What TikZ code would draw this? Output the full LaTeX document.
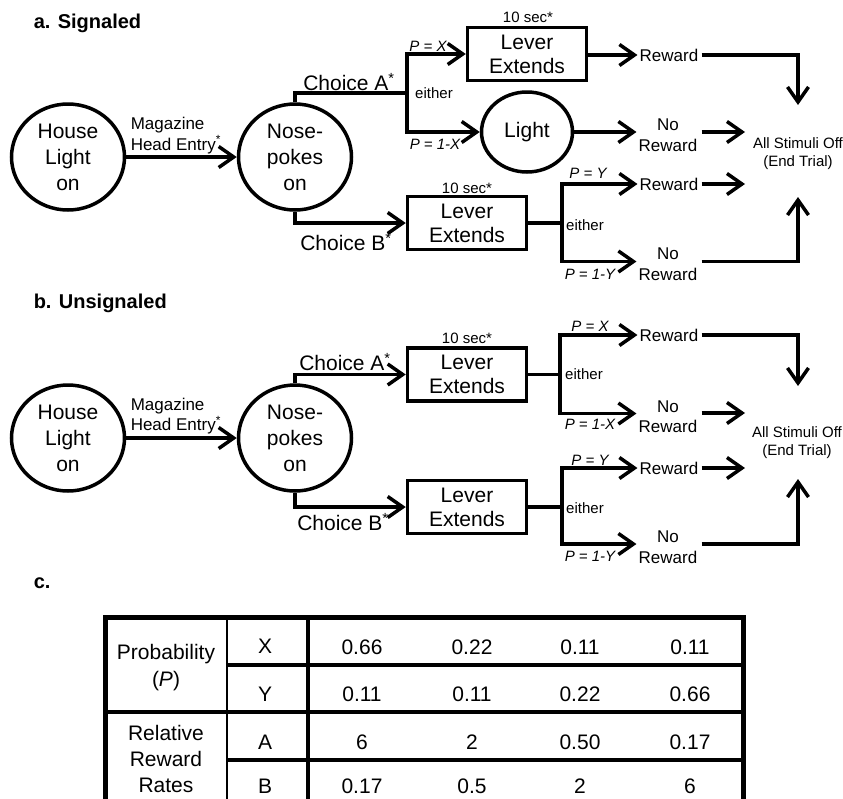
\documentclass[tikz,border=0pt]{standalone}
\usepackage{fontspec}
\setmainfont{Liberation Sans}
\usetikzlibrary{arrows.meta,shapes.geometric}
\newcommand\szL{\fontsize{21}{26}\selectfont}
\newcommand\szB{\fontsize{21}{24}\selectfont}
\newcommand\szM{\fontsize{17}{20.5}\selectfont}
\newcommand\szS{\fontsize{15}{18}\selectfont}
\newcommand\szT{\fontsize{21}{27}\selectfont}
\begin{document}
\begin{tikzpicture}[x=1pt,y=-1pt,line width=3.5pt,
  ttl/.style={font=\bfseries\fontsize{20}{24}\selectfont,inner sep=0pt,anchor=west},
  bigc/.style={ellipse,draw,minimum width=113pt,minimum height=106pt,inner sep=0pt,align=center,font=\szL},
  ellc/.style={ellipse,draw,minimum width=91pt,minimum height=80pt,inner sep=0pt,font=\szL},
  box/.style={rectangle,draw,minimum width=119pt,minimum height=53pt,inner sep=0pt,align=center,font=\szB},
  lbl/.style={inner sep=1pt,font=\szL},
  txt/.style={inner sep=0.5pt,font=\szM,align=center},
  sml/.style={inner sep=1pt,font=\szS,align=center},
  pl/.style={inner sep=1pt,font=\szS\itshape},
  tcell/.style={inner sep=0pt,font=\szT,align=center},
  arr/.style={-{Straight Barb[length=15pt,width=21pt]}}
]
\useasboundingbox (0,0) rectangle (843,798);
\clip (0,0) rectangle (843,798);

% ---------------- part a ----------------
\node[ttl] (ta) at (32,23) {a. Signaled};
\node[bigc] (h1) at (68,157) {House\\Light\\on};
\node[bigc] (n1) at (295,157) {Nose-\\pokes\\on};
\draw[arr] (h1.east) -- (n1.west);
\node[txt,anchor=west,align=left,inner sep=0pt] (mh1) at (129,135.5) {Magazine\\Head Entry\textsuperscript{*}};

\coordinate (ja1) at (407,93);
\draw (n1.north) |- (ja1);
\node[lbl] (ca1) at (349,82) {Choice A\textsuperscript{*}};
\node[box] (lv1) at (527,54) {Lever\\Extends};
\node[ellc] (lt1) at (527,132) {Light};
\draw[arr] (ja1) |- (lv1.west);
\draw[arr] (ja1) |- (lt1.west);
\node[sml] (ts1) at (528,17) {10 sec*};
\node[pl] (px1) at (428,46) {P = X};
\node[sml] (ei1) at (434,93) {either};
\node[pl] (pnx1) at (435,144) {P = 1-X};

\node[txt] (rw1) at (669,55) {Reward};
\draw[arr] (lv1.east |- rw1.west) -- (rw1.west);
\node[txt] (nr1) at (668,135) {No\\Reward};
\draw[arr] (lt1.east) -- (lt1.east -| nr1.west);
\node[sml] (as1) at (798,154) {All Stimuli Off\\(End Trial)};
\coordinate (e1) at (745,132);
\draw[arr] ([xshift=2pt]nr1.east |- e1) -- (e1);
\coordinate (d1) at (798,105);
\draw[arr] ([xshift=1pt]rw1.east) -| (d1);

\node[box] (lv2) at (467,223) {Lever\\Extends};
\draw[arr] (n1.south) |- (lv2.west);
\node[lbl] (cb1) at (346,242) {Choice B\textsuperscript{*}};
\node[sml] (ts2) at (467,188) {10 sec*};
\coordinate (jb1) at (562,223);
\draw (lv2.east) -- (jb1);
\node[txt] (rw2) at (669,184) {Reward};
\node[txt] (nr2) at (668,264) {No\\Reward};
\draw[arr] (jb1) |- (rw2.west);
\draw[arr] (jb1) |- ([yshift=2.5pt]nr2.west);
\node[pl] (py1) at (588,173) {P = Y};
\node[sml] (ei2) at (585,225) {either};
\node[pl] (pny1) at (590,274) {P = 1-Y};
\coordinate (e2) at (745,184);
\draw[arr] ([xshift=1pt]rw2.east) -- (e2);
\coordinate (u1) at (798,197);
\draw[arr] ([xshift=2pt,yshift=2.5pt]nr2.east) -| (u1);

% ---------------- part b ----------------
\node[ttl] (tb) at (32,303) {b. Unsignaled};
\node[bigc] (h2) at (68,438) {House\\Light\\on};
\node[bigc] (n2) at (295,438) {Nose-\\pokes\\on};
\draw[arr] (h2.east) -- (n2.west);
\node[txt,anchor=west,align=left,inner sep=0pt] (mh2) at (129,416) {Magazine\\Head Entry\textsuperscript{*}};

\node[box] (lv3) at (467,374.5) {Lever\\Extends};
\node[box] (lv4) at (467,507) {Lever\\Extends};
\draw[arr] (n2.north) |- (lv3.west);
\draw[arr] (n2.south) |- (lv4.west);
\node[lbl] (ca2) at (345,362) {Choice A\textsuperscript{*}};
\node[lbl] (cb2) at (343,522) {Choice B\textsuperscript{*}};
\node[sml] (ts3) at (467,338) {10 sec*};

\coordinate (jb3) at (560,374.5);
\draw (lv3.east) -- (jb3);
\node[txt] (rw3) at (669,335) {Reward};
\node[txt] (nr3) at (668,416.5) {No\\Reward};
\draw[arr] (jb3) |- (rw3.west);
\draw[arr] (jb3) |- ([yshift=3pt]nr3.west);
\node[pl] (px2) at (590,326) {P = X};
\node[sml] (ei3) at (584,374) {either};
\node[pl] (pnx2) at (590,424) {P = 1-X};
\node[sml] (as2) at (797,442.5) {All Stimuli Off\\(End Trial)};
\coordinate (d2) at (798,386);
\draw[arr] ([xshift=1pt]rw3.east) -| (d2);
\coordinate (e3) at (745,413);
\draw[arr] ([xshift=2pt]nr3.east |- e3) -- (e3);

\coordinate (jb4) at (562,507);
\draw (lv4.east) -- (jb4);
\node[txt] (rw4) at (669,468) {Reward};
\node[txt] (nr4) at (668,547) {No\\Reward};
\draw[arr] (jb4) |- (rw4.west);
\draw[arr] (jb4) |- ([yshift=3pt]nr4.west);
\node[pl] (py2) at (590,460) {P = Y};
\node[sml] (ei4) at (585,508) {either};
\node[pl] (pny2) at (590,556) {P = 1-Y};
\coordinate (e4) at (745,468);
\draw[arr] ([xshift=1pt]rw4.east) -- (e4);
\coordinate (u2) at (798,479);
\draw[arr] ([xshift=2pt,yshift=3pt]nr4.east) -| (u2);

% ---------------- part c ----------------
\node[ttl] (tc) at (32,583) {c.};
\draw[line width=5pt] (105,617) rectangle (743,808);
\draw[line width=4.5pt] (308,617) -- (308,808);
\draw[line width=2.5pt] (227,617) -- (227,808);
\draw[line width=4pt] (227,665) -- (743,665);
\draw[line width=4.5pt] (105,712) -- (743,712);
\draw[line width=4pt] (227,760) -- (743,760);

\node[tcell] (cp) at (166,668) {Probability\\(\textit{P})};
\node[tcell,font=\fontsize{21}{26}\selectfont] (cr) at (166,759) {Relative\\Reward\\Rates};
\node[tcell] (cx) at (265,646) {X};
\node[tcell] (cy) at (265,694) {Y};
\node[tcell] (ca) at (265,742) {A};
\node[tcell] (cbb) at (265,786) {B};

\node[tcell] (x1) at (362,647) {0.66};
\node[tcell] (x2) at (472,647) {0.22};
\node[tcell] (x3) at (580,647) {0.11};
\node[tcell] (x4) at (690,647) {0.11};
\node[tcell] (y1) at (362,694) {0.11};
\node[tcell] (y2) at (472,694) {0.11};
\node[tcell] (y3) at (580,694) {0.22};
\node[tcell] (y4) at (690,694) {0.66};
\node[tcell] (a1) at (362,742) {6};
\node[tcell] (a2) at (472,742) {2};
\node[tcell] (a3) at (580,742) {0.50};
\node[tcell] (a4) at (690,742) {0.17};
\node[tcell] (b1) at (362,786) {0.17};
\node[tcell] (b2) at (472,786) {0.5};
\node[tcell] (b3) at (580,786) {2};
\node[tcell] (b4) at (690,786) {6};
\end{tikzpicture}
\end{document}
